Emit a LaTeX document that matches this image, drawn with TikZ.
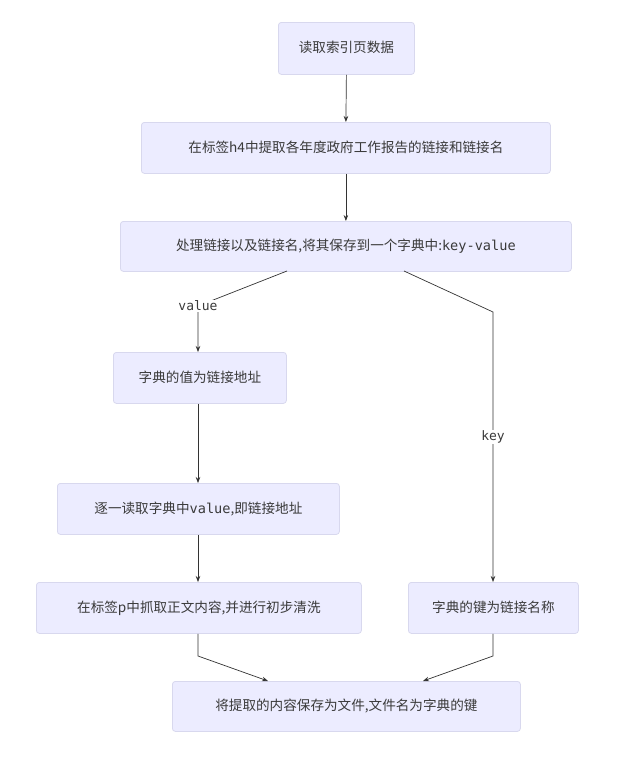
\documentclass[tikz,border=0pt]{standalone}
\usepackage{fontspec}
\setmainfont{Noto Sans CJK SC}
\newfontfamily\codefont{DejaVu Sans Mono}
\usetikzlibrary{arrows.meta}
\definecolor{boxfill}{HTML}{ECECFF}
\definecolor{boxline}{HTML}{D8D8EE}
\definecolor{txt}{HTML}{3A3A3A}
\definecolor{lin}{HTML}{333333}
\tikzset{
  stepbox/.style={draw=boxline, fill=boxfill, rounded corners=3pt, line width=0.8pt,
    text=txt, font=\fontsize{13.6}{15}\selectfont, anchor=north west, inner sep=0pt,
    align=center},
  conn/.style={draw=lin, line width=0.7pt, -{Stealth[length=6pt,width=4.5pt]}},
  lab/.style={fill=white, text=txt, font=\codefont\fontsize{13}{15}\selectfont, inner sep=1pt}
}
\newcommand{\bx}[6]{\node[stepbox, minimum width=#4pt, minimum height=#5pt] (#1) at (#2,#3) {\raisebox{2.5pt}{#6}};}
\begin{document}
\begin{tikzpicture}[x=1pt,y=-1pt]
\useasboundingbox[fill=white] (0,0) rectangle (640,779);
\bx{n1}{278}{22}{136}{52}{读取索引页数据}
\bx{n2}{141}{122}{409}{51}{在标签h4中提取各年度政府工作报告的链接和链接名}
\bx{n3}{120}{221}{451}{50}{处理链接以及链接名,将其保存到一个字典中:{\codefont key-value}}
\bx{n4}{113}{352}{173}{51}{字典的值为链接地址}
\bx{n5}{57}{483}{282}{51}{逐一读取字典中{\codefont value},即链接地址}
\bx{n6}{36}{582}{325}{51}{在标签p中抓取正文内容,并进行初步清洗}
\bx{n7}{408}{582}{170}{51}{字典的键为链接名称}
\bx{n8}{172}{681}{348}{50}{将提取的内容保存为文件,文件名为字典的键}
\coordinate (s3l) at (287,271);
\coordinate (c3l) at (198,306);
\coordinate (s3r) at (404,271);
\coordinate (c3r) at (493,312);
\coordinate (c6) at (198,656);
\coordinate (c7) at (493,656);
\draw[conn] (n1.south) -- (n2.north);
\draw[conn] (n2.south) -- (n3.north);
\draw[conn] (s3l) -- (c3l) -- (c3l |- n4.north);
\node[lab] (lv) at (c3l) {value};
\draw[conn] (s3r) -- (c3r) -- (c3r |- n7.north);
\node[lab] (lk) at (493,437) {key};
\draw[conn] (c3l |- n4.south) -- (c3l |- n5.north);
\draw[conn] (c3l |- n5.south) -- (c3l |- n6.north);
\draw[conn] (c6 |- n6.south) -- (c6) -- (268,681);
\draw[conn] (c7 |- n7.south) -- (c7) -- (423,681);
\end{tikzpicture}
\end{document}
